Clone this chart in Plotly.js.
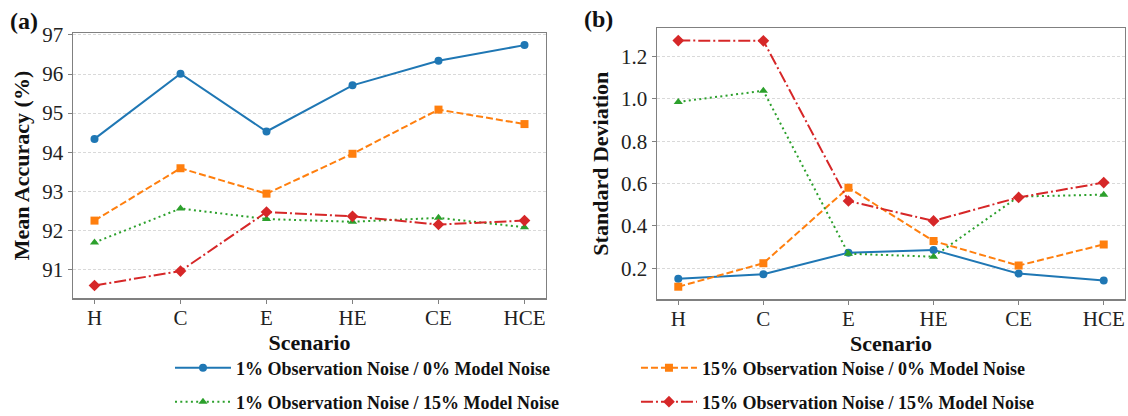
<!DOCTYPE html>
<html>
<head>
<meta charset="utf-8">
<script src="https://cdn.plot.ly/plotly-3.0.1.min.js"></script>
<style>
html,body{margin:0;padding:0;background:#fff;}
#chart{width:1128px;height:416px;}
</style>
</head>
<body>
<div id="chart"></div>
<script>
const scenarios = ["H", "C", "E", "HE", "CE", "HCE"];
const seriesNames = [
  "1% Observation Noise / 0% Model Noise",
  "15% Observation Noise / 0% Model Noise",
  "1% Observation Noise / 15% Model Noise",
  "15% Observation Noise / 15% Model Noise"
];
// Panel (a): Mean Accuracy (%)
const accObs1Model0   = [94.34, 96.01, 94.53, 95.71, 96.34, 96.74];
const accObs15Model0  = [92.25, 93.59, 92.94, 93.96, 95.09, 94.72];
const accObs1Model15  = [91.69, 92.56, 92.29, 92.22, 92.32, 92.08];
const accObs15Model15 = [90.59, 90.96, 92.47, 92.36, 92.15, 92.25];
// Panel (b): Standard Deviation
const sdObs1Model0   = [0.151, 0.172, 0.274, 0.287, 0.175, 0.142];
const sdObs15Model0  = [0.113, 0.224, 0.581, 0.329, 0.213, 0.313];
const sdObs1Model15  = [0.986, 1.039, 0.269, 0.255, 0.539, 0.548];
const sdObs15Model15 = [1.276, 1.275, 0.518, 0.424, 0.535, 0.605];

const colors = ["#1f77b4", "#ff7f0e", "#2ca02c", "#d62728"];
const dashes = ["solid", "7px,3px", "2px,3.3px", "12px,3px,2px,3px"];
const symbols = ["circle", "square", "triangle-up", "diamond"];
const msizes = [8, 8, 8, 9];
const legendIds = ["legend", "legend2", "legend3", "legend4"];

const accData = [accObs1Model0, accObs15Model0, accObs1Model15, accObs15Model15];
const sdData = [sdObs1Model0, sdObs15Model0, sdObs1Model15, sdObs15Model15];

const traces = [];
for (let i = 0; i < 4; i++) {
  traces.push({
    x: scenarios, y: accData[i], type: "scatter", mode: "lines+markers",
    name: seriesNames[i], xaxis: "x", yaxis: "y", legend: legendIds[i],
    line: {color: colors[i], width: 2, dash: dashes[i]},
    marker: {color: colors[i], symbol: symbols[i], size: msizes[i]},
    showlegend: true
  });
}
for (let i = 0; i < 4; i++) {
  traces.push({
    x: scenarios, y: sdData[i], type: "scatter", mode: "lines+markers",
    name: seriesNames[i], xaxis: "x2", yaxis: "y2",
    line: {color: colors[i], width: 2, dash: dashes[i]},
    marker: {color: colors[i], symbol: symbols[i], size: msizes[i]},
    showlegend: false
  });
}

const serif = "Liberation Serif, Times New Roman, serif";
const frame = "#808080";
function xAx(domain, anchor) {
  return {
    domain: domain, anchor: anchor, type: "category",
    range: [-0.25, 5.25], showgrid: false, zeroline: false,
    showline: true, mirror: true, linecolor: frame, linewidth: 1.5,
    ticks: "outside", ticklen: 4, tickcolor: frame, tickwidth: 1,
    ticklabelstandoff: -4,
    tickfont: {family: serif, size: 21, color: "#222"},
    automargin: false,
    title: {text: "<b>Scenario</b>", font: {family: serif, size: 22, color: "#111"}, standoff: 1}
  };
}
function yAx(domain, anchor, range, dtick, title, fmt) {
  return {
    domain: domain, anchor: anchor, range: range, dtick: dtick, tickformat: fmt,
    showgrid: true, gridcolor: "#cfcfcf", gridwidth: 0.8, griddash: "3px,2px",
    zeroline: false, showline: true, mirror: true, linecolor: frame, linewidth: 1.5,
    ticks: "outside", ticklen: 4, tickcolor: frame, tickwidth: 1,
    tickfont: {family: serif, size: 21, color: "#222"},
    automargin: false,
    title: {text: "<b>" + title + "</b>", font: {family: serif, size: 22, color: "#111"}, standoff: 6}
  };
}
function leg(x, y) {
  return {
    x: x, y: y, xanchor: "left", yanchor: "middle", xref: "paper", yref: "paper",
    bgcolor: "rgba(0,0,0,0)", borderwidth: 0, itemwidth: 56,
    font: {family: serif, size: 18, color: "#111", weight: "bold"}
  };
}

const layout = {
  width: 1128, height: 416,
  margin: {l: 0, r: 0, t: 0, b: 0, autoexpand: false},
  paper_bgcolor: "#fff", plot_bgcolor: "#fff",
  showlegend: true,
  xaxis: xAx([0.06472, 0.48404], "y"),
  yaxis: yAx([0.28365, 0.92067], "x", [90.27, 97.05], 1, "Mean Accuracy (%)", "d"),
  xaxis2: xAx([0.58245, 0.99734], "y2"),
  yaxis2: yAx([0.28125, 0.93197], "x2", [0.055, 1.334], 0.2, "Standard Deviation", ".1f"),
  legend: leg(0.1507, 1 - 368 / 416),
  legend2: leg(0.5638, 1 - 368 / 416),
  legend3: leg(0.1507, 1 - 402 / 416),
  legend4: leg(0.5638, 1 - 402 / 416),
  annotations: [
    {text: "<b>(a)</b>", x: 8 / 1128, y: 1 - 21 / 416, xref: "paper", yref: "paper",
     xanchor: "left", yanchor: "middle", showarrow: false,
     font: {family: serif, size: 24, color: "#111"}},
    {text: "<b>(b)</b>", x: 582 / 1128, y: 1 - 19 / 416, xref: "paper", yref: "paper",
     xanchor: "left", yanchor: "middle", showarrow: false,
     font: {family: serif, size: 24, color: "#111"}}
  ]
};

Plotly.newPlot("chart", traces, layout, {displayModeBar: false, staticPlot: true});
</script>
</body>
</html>
